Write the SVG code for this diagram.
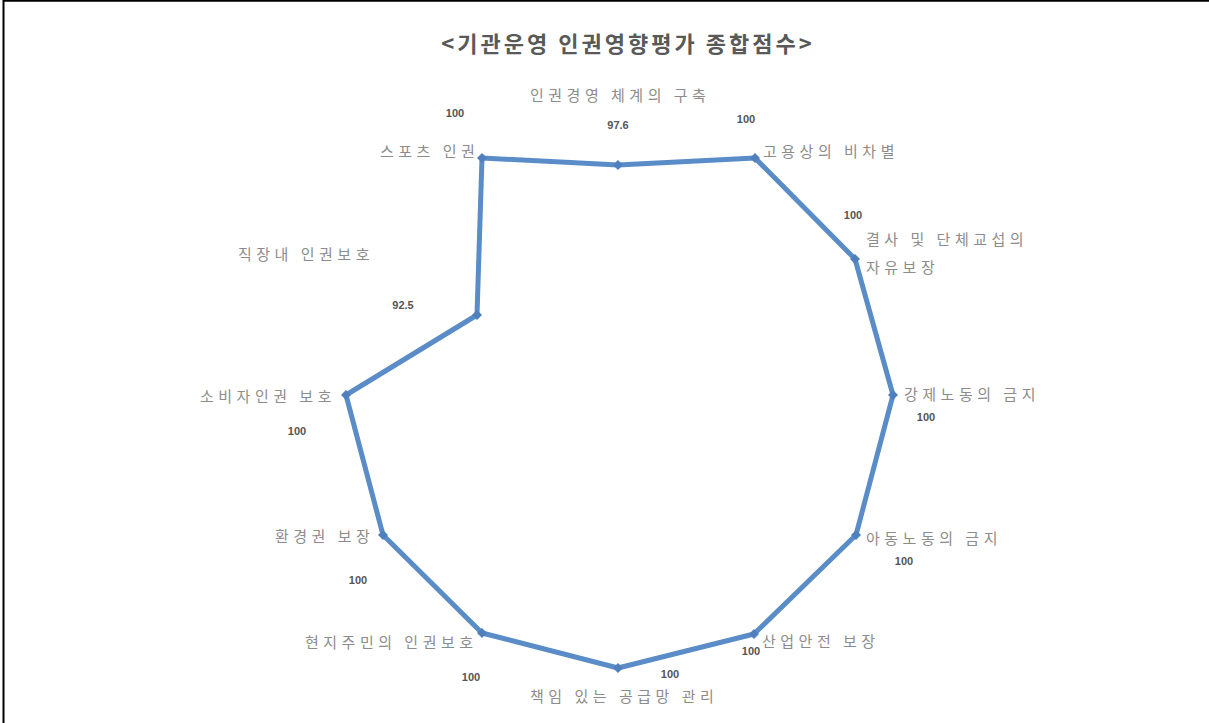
<svg xmlns="http://www.w3.org/2000/svg" width="1209" height="723" viewBox="0 0 1209 723">
<style>
.lbl{font-family:"Noto Sans CJK KR","Noto Sans",sans-serif;font-size:15px;fill:#8c8c8c;letter-spacing:4.5px}
.val{font-family:"Liberation Sans","Noto Sans",sans-serif;font-size:11px;font-weight:bold;fill:#555}
.title{font-family:"Noto Sans CJK KR","Noto Sans",sans-serif;font-size:22px;font-weight:bold;fill:#595959;letter-spacing:3px}
.series{fill:none;stroke:#5a8cc8;stroke-width:5;stroke-linejoin:round}
.pt{fill:#4f80bd}
</style>
<defs>
<path id="dia" d="M0,-5 L5,0 L0,5 L-5,0 Z"/>
</defs>
<rect width="1209" height="723" fill="#fff"/>
<line x1="3.5" y1="0" x2="3.5" y2="723" stroke="#000" stroke-width="2"/>
<line x1="3" y1="0.8" x2="1209" y2="0.8" stroke="#000" stroke-width="2"/>
<text class="title" x="628" y="52" text-anchor="middle">&lt;기관운영 인권영향평가 종합점수&gt;</text>
<g id="connectors">
<polygon class="series" points="618,165 755,158 855,259 893,395 856,535 754,634 618,668 482,633 383,535 346,395 477,315 482,158"/>
</g>
<g id="markers">
<use href="#dia" class="pt" x="618" y="165"/>
<use href="#dia" class="pt" x="755" y="158"/>
<use href="#dia" class="pt" x="855" y="259"/>
<use href="#dia" class="pt" x="893" y="395"/>
<use href="#dia" class="pt" x="856" y="535"/>
<use href="#dia" class="pt" x="754" y="634"/>
<use href="#dia" class="pt" x="618" y="668"/>
<use href="#dia" class="pt" x="482" y="633"/>
<use href="#dia" class="pt" x="383" y="535"/>
<use href="#dia" class="pt" x="346" y="395"/>
<use href="#dia" class="pt" x="477" y="315"/>
<use href="#dia" class="pt" x="482" y="158"/>
</g>
<g id="n1"><text class="lbl" x="530" y="101">인권경영 체계의 구축</text><text class="val" x="618" y="129" text-anchor="middle">97.6</text></g>
<g id="n2"><text class="lbl" x="763" y="157">고용상의 비차별</text><text class="val" x="746" y="123" text-anchor="middle">100</text></g>
<g id="n3"><text class="lbl" x="866" y="245">결사 및 단체교섭의</text><text class="lbl" x="866" y="273">자유보장</text><text class="val" x="853" y="219" text-anchor="middle">100</text></g>
<g id="n4"><text class="lbl" x="904" y="400">강제노동의 금지</text><text class="val" x="926" y="421" text-anchor="middle">100</text></g>
<g id="n5"><text class="lbl" x="866" y="544">아동노동의 금지</text><text class="val" x="904" y="565" text-anchor="middle">100</text></g>
<g id="n6"><text class="lbl" x="762" y="647">산업안전 보장</text><text class="val" x="751" y="655" text-anchor="middle">100</text></g>
<g id="n7"><text class="lbl" x="530" y="702">책임 있는 공급망 관리</text><text class="val" x="670" y="678" text-anchor="middle">100</text></g>
<g id="n8"><text class="lbl" x="305" y="648">현지주민의 인권보호</text><text class="val" x="471" y="681" text-anchor="middle">100</text></g>
<g id="n9"><text class="lbl" x="275" y="542">환경권 보장</text><text class="val" x="358" y="584" text-anchor="middle">100</text></g>
<g id="n10"><text class="lbl" x="200" y="402">소비자인권 보호</text><text class="val" x="297" y="435" text-anchor="middle">100</text></g>
<g id="n11"><text class="lbl" x="238" y="260">직장내 인권보호</text><text class="val" x="403" y="309" text-anchor="middle">92.5</text></g>
<g id="n12"><text class="lbl" x="380" y="157">스포츠 인권</text><text class="val" x="455" y="117" text-anchor="middle">100</text></g>
</svg>
